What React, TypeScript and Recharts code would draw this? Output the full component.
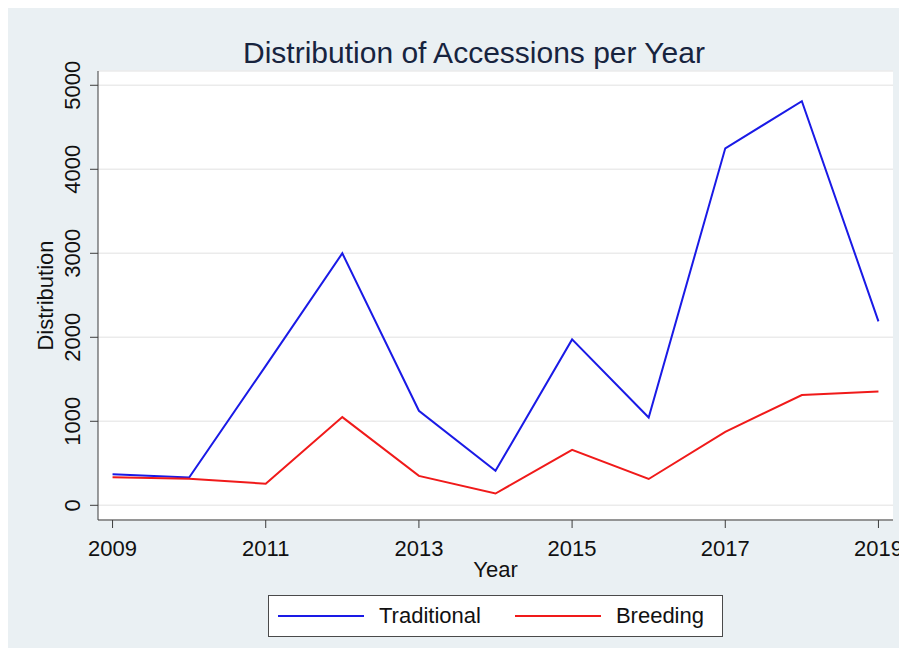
import { LineChart, Line, XAxis, YAxis, CartesianGrid, Legend } from 'recharts';

const years = [2009, 2010, 2011, 2012, 2013, 2014, 2015, 2016, 2017, 2018, 2019];
const traditional = [370, 330, 1660, 3000, 1125, 410, 1975, 1045, 4250, 4810, 2190];
const breeding = [335, 315, 257, 1050, 350, 140, 660, 313, 875, 1313, 1355];
const xTicks = [2009, 2011, 2013, 2015, 2017, 2019];
const yTicks = [0, 1000, 2000, 3000, 4000, 5000];

const FONT = '"Liberation Sans", Arial, sans-serif';
const BLUE = '#1a1ae6';
const RED = '#f01a1a';

const data = years.map((year, i) => ({
    year,
    Traditional: traditional[i],
    Breeding: breeding[i],
}));

function YTick(props: any) {
    const { x, y, payload } = props;
    const bx = x - 8;
    return (
        <text
            x={bx}
            y={y}
            transform={`rotate(-90, ${bx}, ${y})`}
            textAnchor="middle"
            fontSize={22}
            fontFamily={FONT}
            fill="#111"
        >
            {payload.value}
        </text>
    );
}

function LegendBox() {
    const item = (color: string, label: string, gap: number) => (
        <div style={{ display: 'flex', alignItems: 'center', marginLeft: gap }}>
            <svg width={86} height={4}>
                <line x1={0} y1={2} x2={86} y2={2} stroke={color} strokeWidth={2} />
            </svg>
            <span style={{ marginLeft: 15, fontSize: 22, fontFamily: FONT, color: '#111' }}>{label}</span>
        </div>
    );
    return (
        <div
            style={{
                width: 455,
                height: 42,
                boxSizing: 'border-box',
                border: '1px solid #4a4a4a',
                background: '#fff',
                display: 'flex',
                alignItems: 'center',
            }}
        >
            {item(BLUE, 'Traditional', 9)}
            {item(RED, 'Breeding', 34)}
        </div>
    );
}

export default function App() {
    return (
        <div style={{ position: 'relative', width: 897, height: 640, background: '#eaf0f3' }}>
            <style>{'.recharts-surface { overflow: visible; }'}</style>
            <svg width={897} height={80} style={{ position: 'absolute', left: 0, top: 0 }}>
                <text x={466} y={55} textAnchor="middle" fontSize={30} fontFamily={FONT} fill="#17243f">
                    Distribution of Accessions per Year
                </text>
            </svg>
            <LineChart
                width={897}
                height={640}
                data={data}
                margin={{ top: 63, right: 12, bottom: 68, left: 0 }}
            >
                <CartesianGrid fill="#ffffff" stroke="#ebebeb" strokeWidth={1.5} vertical={false} />
                <XAxis
                    dataKey="year"
                    type="number"
                    domain={[2008.81, 2019.19]}
                    ticks={xTicks}
                    height={60}
                    tickSize={8}
                    tickMargin={12}
                    stroke="#3c3c3c"
                    tick={{ fontSize: 22, fontFamily: FONT, fill: '#111' }}
                    label={{ value: 'Year', position: 'insideTop', offset: 41, fontSize: 22, fontFamily: FONT, fill: '#111' }}
                />
                <YAxis
                    type="number"
                    domain={[-175, 5170]}
                    ticks={yTicks}
                    width={90}
                    tickSize={8}
                    tickMargin={2}
                    stroke="#3c3c3c"
                    tick={<YTick />}
                    label={({ viewBox }: any) => {
                        const cy = viewBox.y + viewBox.height / 2;
                        return (
                            <text
                                x={45}
                                y={cy}
                                transform={`rotate(-90, 45, ${cy})`}
                                textAnchor="middle"
                                fontSize={22}
                                fontFamily={FONT}
                                fill="#111"
                            >
                                Distribution
                            </text>
                        );
                    }}
                />
                <Legend
                    layout="horizontal"
                    verticalAlign="middle"
                    align="center"
                    content={<LegendBox />}
                    wrapperStyle={{ position: 'absolute', left: 260, top: 587, width: 455, height: 42 }}
                />
                <Line type="linear" dataKey="Traditional" stroke={BLUE} strokeWidth={2} dot={false} isAnimationActive={false} />
                <Line type="linear" dataKey="Breeding" stroke={RED} strokeWidth={2} dot={false} isAnimationActive={false} />
            </LineChart>
        </div>
    );
}
